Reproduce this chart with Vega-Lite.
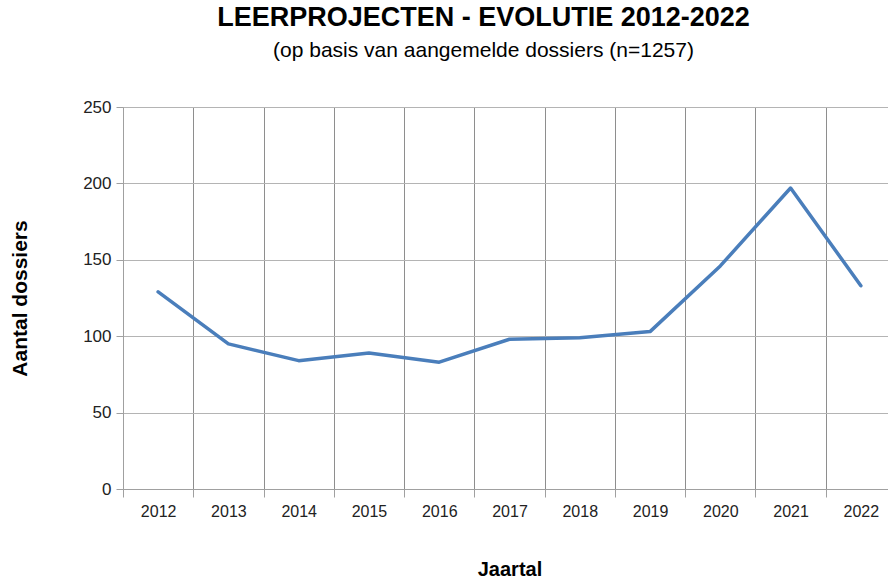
{
  "$schema": "https://vega.github.io/schema/vega-lite/v6.json",
  "autosize": {"type": "none"},
  "width": 765,
  "height": 382,
  "padding": {"left": 123, "top": 107, "right": 0, "bottom": 91},
  "background": "white",
  "config": {
    "view": {"stroke": null},
    "font": "Liberation Sans"
  },
  "title": {
    "text": "LEERPROJECTEN - EVOLUTIE 2012-2022",
    "subtitle": "(op basis van aangemelde dossiers (n=1257)",
    "anchor": "middle",
    "dx": -22,
    "offset": 36,
    "font": "Liberation Sans",
    "fontSize": 27,
    "fontWeight": "bold",
    "color": "#000000",
    "subtitleFont": "Liberation Sans",
    "subtitleFontSize": 21,
    "subtitleColor": "#000000",
    "subtitlePadding": 8
  },
  "data": {
    "values": [
      {"jaar": "2012", "aantal": 129},
      {"jaar": "2013", "aantal": 95},
      {"jaar": "2014", "aantal": 84},
      {"jaar": "2015", "aantal": 89},
      {"jaar": "2016", "aantal": 83},
      {"jaar": "2017", "aantal": 98},
      {"jaar": "2018", "aantal": 99},
      {"jaar": "2019", "aantal": 103},
      {"jaar": "2020", "aantal": 146},
      {"jaar": "2021", "aantal": 197},
      {"jaar": "2022", "aantal": 133}
    ]
  },
  "mark": {"type": "line", "color": "#4a7ebb", "strokeWidth": 3.5, "strokeCap": "round", "strokeJoin": "round"},
  "encoding": {
    "x": {
      "field": "jaar",
      "type": "ordinal",
      "bandPosition": 0.5,
      "scale": {"type": "band", "paddingInner": 0, "paddingOuter": 0, "range": [0, 773]},
      "axis": {
        "title": "Jaartal",
        "titleFont": "Liberation Sans",
        "titleFontSize": 20,
        "titleFontWeight": "bold",
        "titleColor": "#000000",
        "titlePadding": 40,
        "labelAngle": 0,
        "labelFont": "Liberation Sans",
        "labelFontSize": 16,
        "labelColor": "#222222",
        "labelPadding": 6,
        "tickBand": "extent",
        "grid": true,
        "gridColor": "#8e8e8e",
        "gridWidth": 1,
        "ticks": true,
        "tickSize": 8,
        "tickColor": "#a0a0a0",
        "domainColor": "#a0a0a0"
      }
    },
    "y": {
      "field": "aantal",
      "type": "quantitative",
      "scale": {"domain": [0, 250]},
      "axis": {
        "title": "Aantal dossiers",
        "titleFont": "Liberation Sans",
        "titleFontSize": 21,
        "titleFontWeight": "bold",
        "titleColor": "#000000",
        "titlePadding": 52,
        "values": [0, 50, 100, 150, 200, 250],
        "labelFont": "Liberation Sans",
        "labelFontSize": 17,
        "labelColor": "#222222",
        "labelPadding": 5,
        "grid": true,
        "gridColor": "#b4b4b4",
        "ticks": true,
        "tickSize": 7,
        "tickColor": "#a0a0a0",
        "domainColor": "#a0a0a0"
      }
    }
  }
}
